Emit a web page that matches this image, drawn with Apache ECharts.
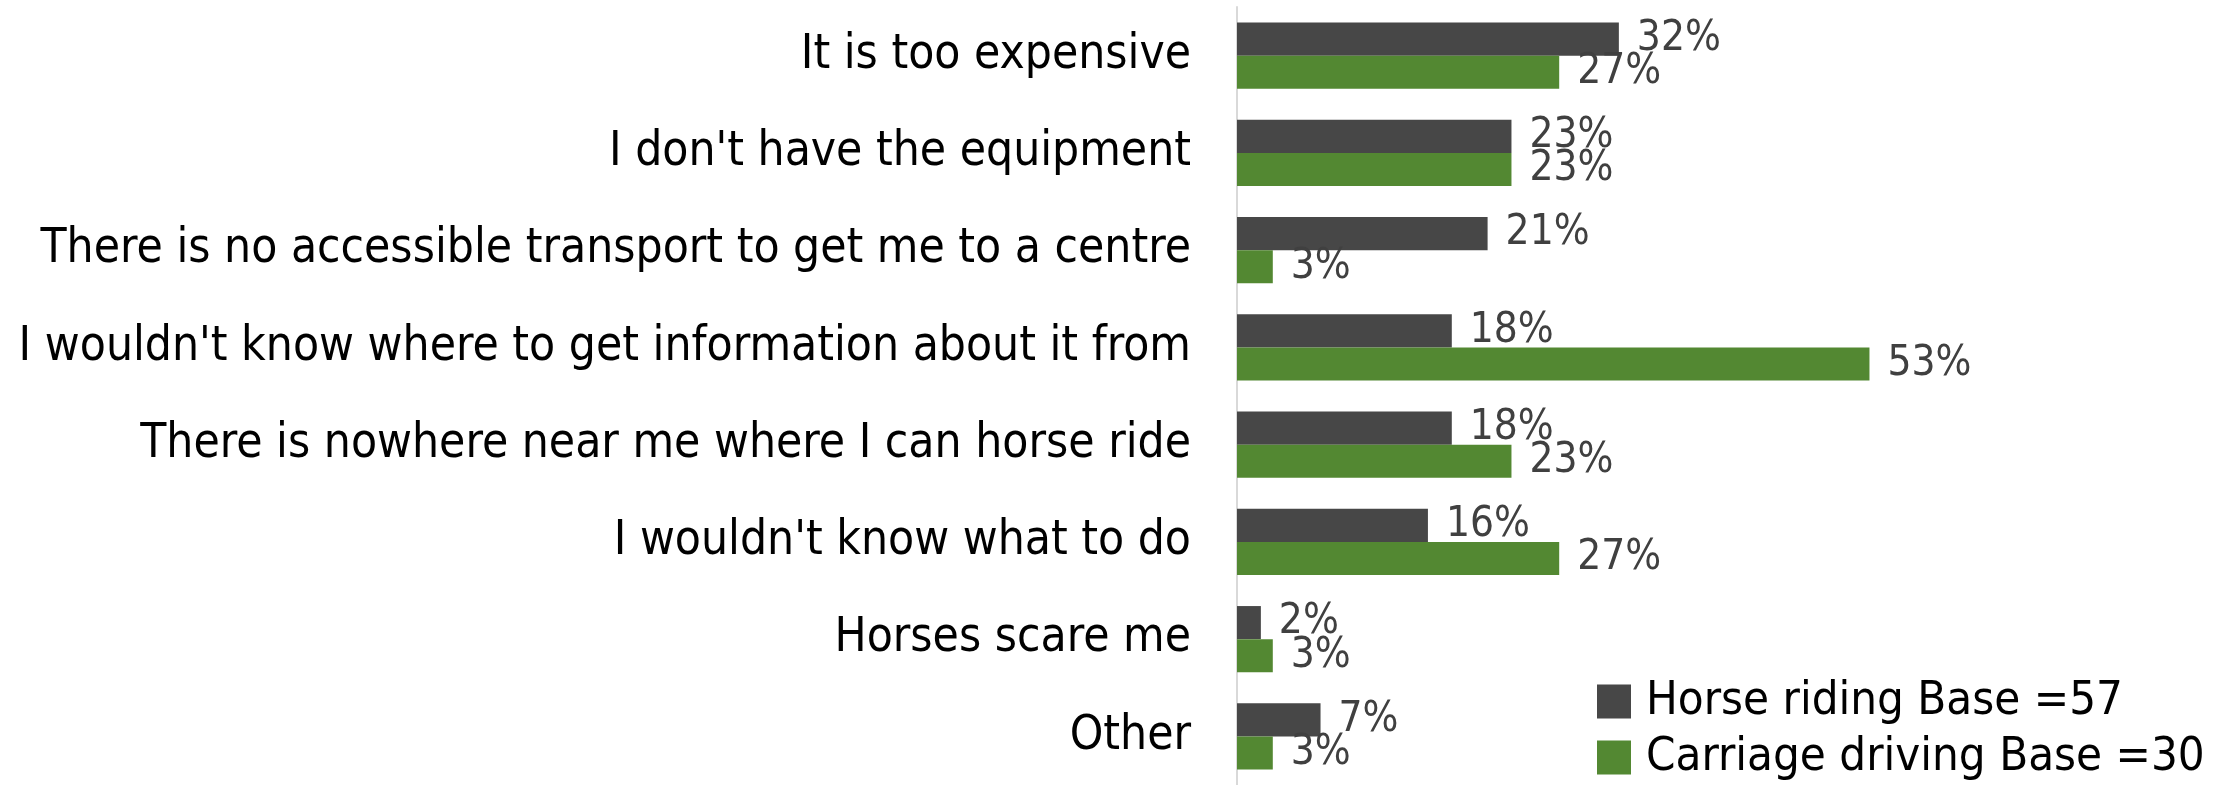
<!DOCTYPE html>
<html>
<head>
<meta charset="utf-8">
<title>Barriers to horse riding and carriage driving</title>
<script src="https://cdn.jsdelivr.net/npm/echarts@6.0.0/dist/echarts.min.js"></script>
<style>
  html, body { margin: 0; padding: 0; background: #fff; }
  #main { width: 2213px; height: 785px; }
</style>
</head>
<body>
<div id="main"></div>
<script>
// reasons, top to bottom
const categories = [
  'It is too expensive',
  "I don't have the equipment",
  'There is no accessible transport to get me to a centre',
  "I wouldn't know where to get information about it from",
  'There is nowhere near me where I can horse ride',
  "I wouldn't know what to do",
  'Horses scare me',
  'Other'
];

const seriesNames = ['Horse riding Base =57', 'Carriage driving Base =30'];

// percentages
const horseRiding = [32, 23, 21, 18, 18, 16, 2, 7];
const carriageDriving = [27, 23, 3, 53, 23, 27, 3, 3];

const FONT = "'DejaVu Sans Condensed', 'DejaVu Sans', sans-serif";

const chart = echarts.init(document.getElementById('main'), null, {renderer: 'canvas'});

function barSeries(name, data, color) {
  return {
    name: name,
    type: 'bar',
    data: data,
    barGap: '0%',
    barCategoryGap: '32%',
    itemStyle: {color: color},
    label: {
      show: true,
      position: 'right',
      distance: 18,
      formatter: '{c}%',
      fontFamily: FONT,
      fontSize: 42,
      color: '#404040'
    },
    silent: true
  };
}

// one legend per row, stacked
function legendRow(name, top) {
  return {
    left: 1592,
    top: top,
    icon: 'rect',
    itemWidth: 34,
    itemHeight: 34,
    selectedMode: false,
    textStyle: {
      fontFamily: FONT,
      fontSize: 47,
      lineHeight: 34,
      color: '#000',
      padding: [0, 0, 0, 10]
    },
    data: [name]
  };
}

chart.setOption({
  animation: false,
  backgroundColor: '#fff',
  grid: {left: 1237, top: 7, bottom: 0, right: 260, containLabel: false},
  xAxis: {
    type: 'value',
    min: 0,
    max: 60,
    show: false
  },
  yAxis: {
    type: 'category',
    data: categories,
    inverse: true,
    axisLine: {show: true, lineStyle: {color: '#d9d9d9', width: 2}},
    axisTick: {show: false},
    axisLabel: {
      margin: 46,
      fontFamily: FONT,
      fontSize: 47.5,
      color: '#000'
    }
  },
  legend: [
    legendRow(seriesNames[0], 673),
    legendRow(seriesNames[1], 729)
  ],
  series: [
    barSeries(seriesNames[0], horseRiding, '#474747'),
    barSeries(seriesNames[1], carriageDriving, '#538832')
  ]
});
</script>
</body>
</html>
